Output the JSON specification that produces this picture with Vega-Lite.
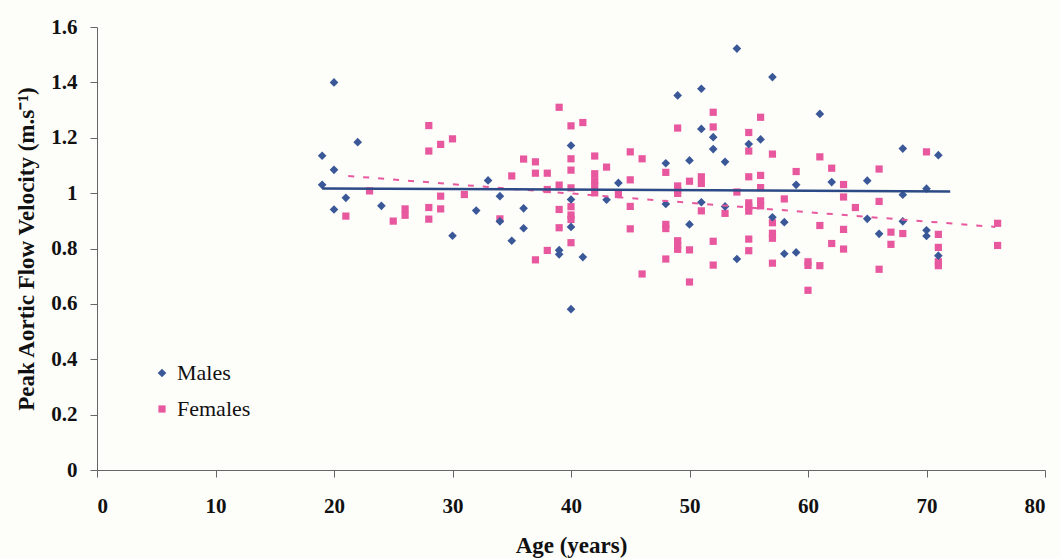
{
  "$schema": "https://vega.github.io/schema/vega-lite/v6.json",
  "width": 948,
  "height": 443,
  "autosize": {"type": "none"},
  "padding": {"left": 97, "top": 27, "right": 15, "bottom": 88},
  "background": "#fdfdfa",
  "config": {
    "view": {"stroke": null},
    "axis": {
      "labelFont": "Liberation Serif",
      "labelFontWeight": "bold",
      "labelFontSize": 21,
      "labelColor": "#111111",
      "titleFont": "Liberation Serif",
      "titleFontWeight": "bold",
      "titleFontSize": 23,
      "titleColor": "#111111",
      "domainColor": "#666666",
      "tickColor": "#666666",
      "grid": false
    }
  },
  "datasets": {
    "points": [
      {"sex":"Females","age":21,"velocity":0.917},{"sex":"Females","age":23,"velocity":1.008},{"sex":"Females","age":25,"velocity":0.899},{"sex":"Females","age":26,"velocity":0.943},{"sex":"Females","age":26,"velocity":0.920},{"sex":"Females","age":28,"velocity":1.244},{"sex":"Females","age":28,"velocity":1.152},{"sex":"Females","age":28,"velocity":0.948},{"sex":"Females","age":28,"velocity":0.906},{"sex":"Females","age":29,"velocity":1.176},{"sex":"Females","age":29,"velocity":0.989},{"sex":"Females","age":29,"velocity":0.943},{"sex":"Females","age":30,"velocity":1.196},{"sex":"Females","age":31,"velocity":0.995},{"sex":"Females","age":34,"velocity":0.907},{"sex":"Females","age":35,"velocity":1.062},{"sex":"Females","age":36,"velocity":1.123},{"sex":"Females","age":37,"velocity":1.113},{"sex":"Females","age":37,"velocity":1.072},{"sex":"Females","age":37,"velocity":0.759},{"sex":"Females","age":38,"velocity":1.072},{"sex":"Females","age":38,"velocity":1.013},{"sex":"Females","age":38,"velocity":0.793},{"sex":"Females","age":39,"velocity":1.310},{"sex":"Females","age":39,"velocity":1.029},{"sex":"Females","age":39,"velocity":0.941},{"sex":"Females","age":39,"velocity":0.875},{"sex":"Females","age":40,"velocity":1.243},{"sex":"Females","age":40,"velocity":1.124},{"sex":"Females","age":40,"velocity":1.083},{"sex":"Females","age":40,"velocity":1.019},{"sex":"Females","age":40,"velocity":0.951},{"sex":"Females","age":40,"velocity":0.921},{"sex":"Females","age":40,"velocity":0.905},{"sex":"Females","age":40,"velocity":0.821},{"sex":"Females","age":41,"velocity":1.255},{"sex":"Females","age":42,"velocity":1.134},{"sex":"Females","age":42,"velocity":1.07},{"sex":"Females","age":42,"velocity":1.045},{"sex":"Females","age":42,"velocity":1.026},{"sex":"Females","age":42,"velocity":1.001},{"sex":"Females","age":43,"velocity":1.094},{"sex":"Females","age":44,"velocity":0.995},{"sex":"Females","age":45,"velocity":1.149},{"sex":"Females","age":45,"velocity":1.048},{"sex":"Females","age":45,"velocity":0.952},{"sex":"Females","age":45,"velocity":0.871},{"sex":"Females","age":46,"velocity":1.124},{"sex":"Females","age":46,"velocity":0.708},{"sex":"Females","age":48,"velocity":1.075},{"sex":"Females","age":48,"velocity":0.887},{"sex":"Females","age":48,"velocity":0.872},{"sex":"Females","age":48,"velocity":0.762},{"sex":"Females","age":49,"velocity":1.235},{"sex":"Females","age":49,"velocity":1.026},{"sex":"Females","age":49,"velocity":1.01},{"sex":"Females","age":49,"velocity":0.999},{"sex":"Females","age":49,"velocity":0.828},{"sex":"Females","age":49,"velocity":0.811},{"sex":"Females","age":49,"velocity":0.797},{"sex":"Females","age":50,"velocity":1.043},{"sex":"Females","age":50,"velocity":0.795},{"sex":"Females","age":50,"velocity":0.679},{"sex":"Females","age":51,"velocity":1.059},{"sex":"Females","age":51,"velocity":1.035},{"sex":"Females","age":51,"velocity":0.936},{"sex":"Females","age":52,"velocity":1.292},{"sex":"Females","age":52,"velocity":1.239},{"sex":"Females","age":52,"velocity":0.826},{"sex":"Females","age":52,"velocity":0.740},{"sex":"Females","age":53,"velocity":0.927},{"sex":"Females","age":54,"velocity":1.004},{"sex":"Females","age":55,"velocity":1.219},{"sex":"Females","age":55,"velocity":1.152},{"sex":"Females","age":55,"velocity":1.059},{"sex":"Females","age":55,"velocity":0.965},{"sex":"Females","age":55,"velocity":0.95},{"sex":"Females","age":55,"velocity":0.935},{"sex":"Females","age":55,"velocity":0.834},{"sex":"Females","age":55,"velocity":0.792},{"sex":"Females","age":56,"velocity":1.274},{"sex":"Females","age":56,"velocity":1.064},{"sex":"Females","age":56,"velocity":1.02},{"sex":"Females","age":56,"velocity":0.972},{"sex":"Females","age":56,"velocity":0.954},{"sex":"Females","age":57,"velocity":1.141},{"sex":"Females","age":57,"velocity":0.893},{"sex":"Females","age":57,"velocity":0.855},{"sex":"Females","age":57,"velocity":0.837},{"sex":"Females","age":57,"velocity":0.747},{"sex":"Females","age":58,"velocity":0.979},{"sex":"Females","age":59,"velocity":1.078},{"sex":"Females","age":60,"velocity":0.752},{"sex":"Females","age":60,"velocity":0.739},{"sex":"Females","age":60,"velocity":0.649},{"sex":"Females","age":61,"velocity":1.131},{"sex":"Females","age":61,"velocity":0.883},{"sex":"Females","age":61,"velocity":0.738},{"sex":"Females","age":62,"velocity":1.09},{"sex":"Females","age":62,"velocity":0.818},{"sex":"Females","age":63,"velocity":1.031},{"sex":"Females","age":63,"velocity":0.986},{"sex":"Females","age":63,"velocity":0.869},{"sex":"Females","age":63,"velocity":0.798},{"sex":"Females","age":64,"velocity":0.948},{"sex":"Females","age":66,"velocity":1.087},{"sex":"Females","age":66,"velocity":0.97},{"sex":"Females","age":66,"velocity":0.725},{"sex":"Females","age":67,"velocity":0.859},{"sex":"Females","age":67,"velocity":0.815},{"sex":"Females","age":68,"velocity":0.854},{"sex":"Females","age":70,"velocity":1.149},{"sex":"Females","age":71,"velocity":0.851},{"sex":"Females","age":71,"velocity":0.804},{"sex":"Females","age":71,"velocity":0.752},{"sex":"Females","age":71,"velocity":0.738},{"sex":"Females","age":76,"velocity":0.891},{"sex":"Females","age":76,"velocity":0.811},
      {"sex":"Males","age":19,"velocity":1.135},{"sex":"Males","age":19,"velocity":1.03},{"sex":"Males","age":20,"velocity":1.40},{"sex":"Males","age":20,"velocity":1.084},{"sex":"Males","age":20,"velocity":0.941},{"sex":"Males","age":21,"velocity":0.983},{"sex":"Males","age":22,"velocity":1.184},{"sex":"Males","age":24,"velocity":0.954},{"sex":"Males","age":30,"velocity":0.846},{"sex":"Males","age":32,"velocity":0.937},{"sex":"Males","age":33,"velocity":1.046},{"sex":"Males","age":34,"velocity":0.989},{"sex":"Males","age":34,"velocity":0.898},{"sex":"Males","age":35,"velocity":0.828},{"sex":"Males","age":36,"velocity":0.945},{"sex":"Males","age":36,"velocity":0.873},{"sex":"Males","age":39,"velocity":0.794},{"sex":"Males","age":39,"velocity":0.779},{"sex":"Males","age":40,"velocity":1.172},{"sex":"Males","age":40,"velocity":0.977},{"sex":"Males","age":40,"velocity":0.878},{"sex":"Males","age":40,"velocity":0.581},{"sex":"Males","age":41,"velocity":0.769},{"sex":"Males","age":43,"velocity":0.976},{"sex":"Males","age":44,"velocity":1.037},{"sex":"Males","age":48,"velocity":1.108},{"sex":"Males","age":48,"velocity":0.961},{"sex":"Males","age":49,"velocity":1.353},{"sex":"Males","age":50,"velocity":1.118},{"sex":"Males","age":50,"velocity":0.887},{"sex":"Males","age":51,"velocity":1.377},{"sex":"Males","age":51,"velocity":1.232},{"sex":"Males","age":51,"velocity":0.967},{"sex":"Males","age":52,"velocity":1.202},{"sex":"Males","age":52,"velocity":1.159},{"sex":"Males","age":53,"velocity":1.113},{"sex":"Males","age":53,"velocity":0.952},{"sex":"Males","age":54,"velocity":1.522},{"sex":"Males","age":54,"velocity":0.762},{"sex":"Males","age":55,"velocity":1.177},{"sex":"Males","age":56,"velocity":1.194},{"sex":"Males","age":57,"velocity":1.419},{"sex":"Males","age":57,"velocity":0.913},{"sex":"Males","age":58,"velocity":0.895},{"sex":"Males","age":58,"velocity":0.781},{"sex":"Males","age":59,"velocity":1.03},{"sex":"Males","age":59,"velocity":0.786},{"sex":"Males","age":61,"velocity":1.286},{"sex":"Males","age":62,"velocity":1.04},{"sex":"Males","age":65,"velocity":1.045},{"sex":"Males","age":65,"velocity":0.907},{"sex":"Males","age":66,"velocity":0.853},{"sex":"Males","age":68,"velocity":1.161},{"sex":"Males","age":68,"velocity":0.994},{"sex":"Males","age":68,"velocity":0.898},{"sex":"Males","age":70,"velocity":1.016},{"sex":"Males","age":70,"velocity":0.866},{"sex":"Males","age":70,"velocity":0.845},{"sex":"Males","age":71,"velocity":1.137},{"sex":"Males","age":71,"velocity":0.774}
    ],
    "maleFit": [{"age":19,"velocity":1.017},{"age":72,"velocity":1.006}],
    "femaleFit": [{"age":21.2,"velocity":1.062},{"age":75.8,"velocity":0.878}]
  },
  "layer": [
    {
      "data": {"name": "points"},
      "mark": {"type": "point", "filled": true, "opacity": 1},
      "encoding": {
        "x": {"field": "age", "type": "quantitative", "scale": {"domain": [0, 80], "nice": false}, "axis": {"title": "Age (years)", "values": [0,10,20,30,40,50,60,70,80], "tickSize": 7, "labelPadding": 18, "titlePadding": 18}},
        "y": {"field": "velocity", "type": "quantitative", "scale": {"domain": [0, 1.6], "nice": false}, "axis": {"title": "Peak Aortic Flow Velocity (m.s⁻¹)", "format": "~g", "values": [0,0.2,0.4,0.6,0.8,1,1.2,1.4,1.6], "tickSize": 7, "labelPadding": 13, "titlePadding": 12}},
        "color": {"field": "sex", "type": "nominal", "scale": {"domain": ["Males", "Females"], "range": ["#3a5898", "#e8589e"]},
          "legend": {"title": null, "orient": "none", "legendX": 54, "legendY": 335, "labelFont": "Liberation Serif", "labelFontSize": 22, "labelColor": "#111111", "symbolSize": 30, "rowPadding": 14, "labelOffset": 4, "padding": 0}},
        "shape": {"field": "sex", "type": "nominal", "scale": {"domain": ["Males", "Females"], "range": ["diamond", "square"]}},
        "size": {"field": "sex", "type": "nominal", "scale": {"domain": ["Males", "Females"], "range": [75, 52]}, "legend": null},
        "order": {"field": "sex", "type": "nominal", "sort": "ascending"}
      }
    },
    {
      "data": {"name": "femaleFit"},
      "mark": {"type": "line", "color": "#e8589e", "strokeWidth": 2, "strokeDash": [6, 9]},
      "encoding": {"x": {"field": "age", "type": "quantitative"}, "y": {"field": "velocity", "type": "quantitative"}}
    },
    {
      "data": {"name": "maleFit"},
      "mark": {"type": "line", "color": "#2c4a85", "strokeWidth": 2.5},
      "encoding": {"x": {"field": "age", "type": "quantitative"}, "y": {"field": "velocity", "type": "quantitative"}}
    }
  ]
}
